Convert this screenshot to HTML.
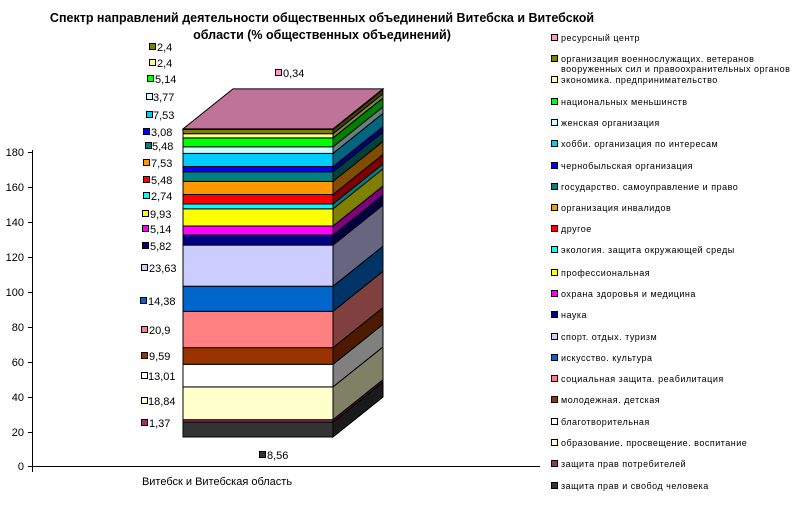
<!DOCTYPE html>
<html><head><meta charset="utf-8"><style>
body{margin:0;background:#fff}
svg{display:block}
text{font-family:"Liberation Sans",Arial,sans-serif;fill:#000}
.l{font-size:11px}
.g{font-size:9px;letter-spacing:0.5px}
</style></head><body>
<svg width="803" height="512" xmlns="http://www.w3.org/2000/svg">
<text x="322" y="22" text-anchor="middle" font-weight="bold" font-size="12.5">Спектр направлений деятельности общественных объединений Витебска и Витебской</text>
<text x="322" y="39" text-anchor="middle" font-weight="bold" font-size="12.5">области (% общественных объединений)</text>
<g stroke="#000" stroke-width="1">
<line x1="32.5" y1="150" x2="32.5" y2="472"/>
<line x1="32" y1="466.5" x2="540" y2="466.5"/>
<line x1="28" y1="152.5" x2="32" y2="152.5"/><line x1="28" y1="187.5" x2="32" y2="187.5"/>
<line x1="28" y1="222.5" x2="32" y2="222.5"/><line x1="28" y1="257.5" x2="32" y2="257.5"/>
<line x1="28" y1="292.5" x2="32" y2="292.5"/><line x1="28" y1="327.5" x2="32" y2="327.5"/>
<line x1="28" y1="362.5" x2="32" y2="362.5"/><line x1="28" y1="397.5" x2="32" y2="397.5"/>
<line x1="28" y1="432.5" x2="32" y2="432.5"/><line x1="28" y1="466.5" x2="32" y2="466.5"/>
</g>
<g class="l" text-anchor="end">
<text x="24" y="156">180</text><text x="24" y="191">160</text><text x="24" y="226">140</text>
<text x="24" y="261">120</text><text x="24" y="296">100</text><text x="24" y="331">80</text>
<text x="24" y="366">60</text><text x="24" y="401">40</text><text x="24" y="436">20</text>
<text x="24" y="470">0</text>
</g>
<text class="l" x="217" y="485" text-anchor="middle">Витебск и Витебская область</text>
<g stroke="#000" stroke-width="1">
<rect x="183" y="422.1" width="150" height="14.9" fill="#333333"/><polygon points="333,437 383,397 383,382.1 333,422.1" fill="#1a1a1a"/>
<rect x="183" y="419.7" width="150" height="2.4" fill="#993366"/><polygon points="333,422.1 383,382.1 383,379.7 333,419.7" fill="#4d1a33"/>
<rect x="183" y="386.9" width="150" height="32.8" fill="#FFFFCC"/><polygon points="333,419.7 383,379.7 383,346.9 333,386.9" fill="#808066"/>
<rect x="183" y="364.3" width="150" height="22.6" fill="#FFFFFF"/><polygon points="333,386.9 383,346.9 383,324.3 333,364.3" fill="#808080"/>
<rect x="183" y="347.6" width="150" height="16.7" fill="#993300"/><polygon points="333,364.3 383,324.3 383,307.6 333,347.6" fill="#4d1a00"/>
<rect x="183" y="311.3" width="150" height="36.3" fill="#FF8080"/><polygon points="333,347.6 383,307.6 383,271.3 333,311.3" fill="#804040"/>
<rect x="183" y="286.2" width="150" height="25.1" fill="#0066CC"/><polygon points="333,311.3 383,271.3 383,246.2 333,286.2" fill="#003366"/>
<rect x="183" y="245.1" width="150" height="41.1" fill="#CCCCFF"/><polygon points="333,286.2 383,246.2 383,205.1 333,245.1" fill="#666680"/>
<rect x="183" y="235.0" width="150" height="10.1" fill="#000080"/><polygon points="333,245.1 383,205.1 383,195 333,235" fill="#000040"/>
<rect x="183" y="226.0" width="150" height="9" fill="#FF00FF"/><polygon points="333,235 383,195 383,186 333,226" fill="#800080"/>
<rect x="183" y="208.8" width="150" height="17.2" fill="#FFFF00"/><polygon points="333,226 383,186 383,168.8 333,208.8" fill="#808000"/>
<rect x="183" y="204.0" width="150" height="4.8" fill="#00FFFF"/><polygon points="333,208.8 383,168.8 383,164 333,204" fill="#008080"/>
<rect x="183" y="194.5" width="150" height="9.5" fill="#FF0000"/><polygon points="333,204 383,164 383,154.5 333,194.5" fill="#800000"/>
<rect x="183" y="181.4" width="150" height="13.1" fill="#FF9900"/><polygon points="333,194.5 383,154.5 383,141.4 333,181.4" fill="#804c00"/>
<rect x="183" y="171.8" width="150" height="9.6" fill="#008080"/><polygon points="333,181.4 383,141.4 383,131.8 333,171.8" fill="#004040"/>
<rect x="183" y="166.5" width="150" height="5.3" fill="#0000FF"/><polygon points="333,171.8 383,131.8 383,126.5 333,166.5" fill="#000080"/>
<rect x="183" y="153.4" width="150" height="13.1" fill="#00CCFF"/><polygon points="333,166.5 383,126.5 383,113.4 333,153.4" fill="#006680"/>
<rect x="183" y="146.8" width="150" height="6.6" fill="#CCFFFF"/><polygon points="333,153.4 383,113.4 383,106.8 333,146.8" fill="#668080"/>
<rect x="183" y="137.9" width="150" height="8.9" fill="#00FF00"/><polygon points="333,146.8 383,106.8 383,97.9 333,137.9" fill="#008000"/>
<rect x="183" y="133.7" width="150" height="4.2" fill="#FFFF99"/><polygon points="333,137.9 383,97.9 383,93.7 333,133.7" fill="#80804c"/>
<rect x="183" y="129.5" width="150" height="4.2" fill="#808000"/><polygon points="333,133.7 383,93.7 383,89.5 333,129.5" fill="#404000"/>
<polygon points="333,129.5 383,89.5 383,88.9 333,128.9" fill="#804c66"/>
<polygon points="183,128.9 233,88.9 383,88.9 333,128.9" fill="#C07398"/>
</g>
<g class="l" stroke="#000" stroke-width="1">
<rect x="149.5" y="43.5" width="6" height="6" fill="#808000"/>
<rect x="149.5" y="59.5" width="6" height="6" fill="#FFFF99"/>
<rect x="147.5" y="75.5" width="6" height="6" fill="#00FF00"/>
<rect x="146.5" y="93.5" width="6" height="6" fill="#CCFFFF"/>
<rect x="146.5" y="111.5" width="6" height="6" fill="#00CCFF"/>
<rect x="143.5" y="128.5" width="6" height="6" fill="#0000FF"/>
<rect x="145.5" y="142.5" width="6" height="6" fill="#008080"/>
<rect x="143.5" y="159.5" width="6" height="6" fill="#FF9900"/>
<rect x="143.5" y="176.5" width="6" height="6" fill="#FF0000"/>
<rect x="143.5" y="192.5" width="6" height="6" fill="#00FFFF"/>
<rect x="142.5" y="210.5" width="6" height="6" fill="#FFFF00"/>
<rect x="142.5" y="225.5" width="6" height="6" fill="#FF00FF"/>
<rect x="142.5" y="242.5" width="6" height="6" fill="#000080"/>
<rect x="141.5" y="264.5" width="6" height="6" fill="#CCCCFF"/>
<rect x="140.5" y="297.5" width="6" height="6" fill="#0066CC"/>
<rect x="141.5" y="326.5" width="6" height="6" fill="#FF8080"/>
<rect x="141.5" y="352.5" width="6" height="6" fill="#993300"/>
<rect x="141.5" y="372.5" width="6" height="6" fill="#FFFFFF"/>
<rect x="141.5" y="397.5" width="6" height="6" fill="#FFFFCC"/>
<rect x="141.5" y="419.5" width="6" height="6" fill="#993366"/>
<rect x="259.5" y="451.5" width="6" height="6" fill="#333333"/>
<rect x="275.5" y="69.5" width="6" height="6" fill="#FF99CC"/>
</g>
<g class="l">
<text x="157" y="51">2,4</text><text x="157" y="67">2,4</text><text x="155" y="83">5,14</text>
<text x="153" y="101">3,77</text><text x="153" y="119">7,53</text><text x="151" y="136">3,08</text>
<text x="152" y="150">5,48</text><text x="151" y="167">7,53</text><text x="151" y="184">5,48</text>
<text x="151" y="200">2,74</text><text x="150" y="218">9,93</text><text x="150" y="233">5,14</text>
<text x="150" y="250">5,82</text><text x="149" y="272">23,63</text><text x="148" y="305">14,38</text>
<text x="149" y="334">20,9</text><text x="149" y="360">9,59</text><text x="148" y="380">13,01</text>
<text x="148" y="405">18,84</text><text x="149" y="427">1,37</text><text x="267" y="459">8,56</text>
<text x="283" y="77">0,34</text>
</g>
<g stroke="#000" stroke-width="1">
<rect x="551.5" y="34.5" width="6" height="6" fill="#FF99CC"/>
<rect x="551.5" y="55.5" width="6" height="6" fill="#808000"/>
<rect x="551.5" y="76.5" width="6" height="6" fill="#FFFF99"/>
<rect x="551.5" y="98.5" width="6" height="6" fill="#00FF00"/>
<rect x="551.5" y="119.5" width="6" height="6" fill="#CCFFFF"/>
<rect x="551.5" y="140.5" width="6" height="6" fill="#00CCFF"/>
<rect x="551.5" y="162.5" width="6" height="6" fill="#0000FF"/>
<rect x="551.5" y="183.5" width="6" height="6" fill="#008080"/>
<rect x="551.5" y="204.5" width="6" height="6" fill="#FF9900"/>
<rect x="551.5" y="225.5" width="6" height="6" fill="#FF0000"/>
<rect x="551.5" y="246.5" width="6" height="6" fill="#00FFFF"/>
<rect x="551.5" y="269.5" width="6" height="6" fill="#FFFF00"/>
<rect x="551.5" y="290.5" width="6" height="6" fill="#FF00FF"/>
<rect x="551.5" y="311.5" width="6" height="6" fill="#000080"/>
<rect x="551.5" y="333.5" width="6" height="6" fill="#CCCCFF"/>
<rect x="551.5" y="354.5" width="6" height="6" fill="#0066CC"/>
<rect x="551.5" y="375.5" width="6" height="6" fill="#FF8080"/>
<rect x="551.5" y="396.5" width="6" height="6" fill="#993300"/>
<rect x="551.5" y="418.5" width="6" height="6" fill="#FFFFFF"/>
<rect x="551.5" y="439.5" width="6" height="6" fill="#FFFFCC"/>
<rect x="551.5" y="460.5" width="6" height="6" fill="#993366"/>
<rect x="551.5" y="482.5" width="6" height="6" fill="#333333"/>
</g>
<g class="g">
<text x="561" y="41">ресурсный центр</text>
<text x="561" y="62">организация военнослужащих. ветеранов</text>
<text x="561" y="72">вооруженных сил и правоохранительных органов</text>
<text x="561" y="83">экономика. предпринимательство</text>
<text x="561" y="105">национальных меньшинств</text>
<text x="561" y="126">женская организация</text>
<text x="561" y="147">хобби. организация по интересам</text>
<text x="561" y="169">чернобыльская организация</text>
<text x="561" y="190">государство. самоуправление и право</text>
<text x="561" y="211">организация инвалидов</text>
<text x="561" y="232">другое</text>
<text x="561" y="253">экология. защита окружающей среды</text>
<text x="561" y="276">профессиональная</text>
<text x="561" y="297">охрана здоровья и медицина</text>
<text x="561" y="318">наука</text>
<text x="561" y="340">спорт. отдых. туризм</text>
<text x="561" y="361">искусство. культура</text>
<text x="561" y="382">социальная защита. реабилитация</text>
<text x="561" y="403">молодежная. детская</text>
<text x="561" y="425">благотворительная</text>
<text x="561" y="446">образование. просвещение.  воспитание</text>
<text x="561" y="467">защита прав потребителей</text>
<text x="561" y="489">защита прав и свобод человека</text>
</g>
</svg>
</body></html>
